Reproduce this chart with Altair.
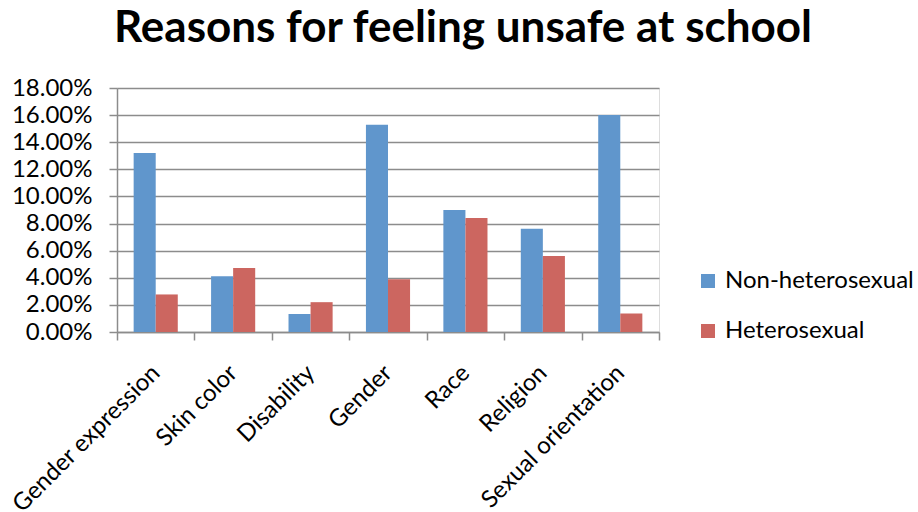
import altair as alt
import pandas as pd

categories = ["Gender expression", "Skin color", "Disability", "Gender",
              "Race", "Religion", "Sexual orientation"]
non_heterosexual = [0.132, 0.0412, 0.0133, 0.1529, 0.090, 0.0762, 0.160]
heterosexual = [0.0277, 0.0473, 0.022, 0.039, 0.0841, 0.056, 0.0136]
series = ["Non-heterosexual", "Heterosexual"]
y_ticks = [i / 100 for i in range(0, 19, 2)]

rows = []
for cat, a, b in zip(categories, non_heterosexual, heterosexual):
    rows.append({"reason": cat, "group": series[0], "share": a})
    rows.append({"reason": cat, "group": series[1], "share": b})
df = pd.DataFrame(rows)

FONT = "Lato"
GRID = "#8c8c8c"

chart = alt.Chart(df).mark_bar().encode(
    x=alt.X("reason:N", sort=categories, title=None,
            scale=alt.Scale(paddingInner=0, paddingOuter=0),
            axis=alt.Axis(labelAngle=315, labelAlign="right", labelBaseline="middle",
                          labelFontSize=24, labelColor="black", labelFont=FONT,
                          labelPadding=29, tickBand="extent", tickSize=8,
                          tickColor=GRID, tickWidth=1.5, domainColor=GRID,
                          domainWidth=1.5, grid=False, labelLimit=0)),
    xOffset=alt.XOffset("group:N", sort=series,
                        scale=alt.Scale(paddingInner=0, paddingOuter=0.755)),
    y=alt.Y("share:Q", title=None,
            scale=alt.Scale(domain=[0, 0.18], nice=False),
            axis=alt.Axis(values=y_ticks, format=".2%", labelFontSize=24,
                          labelColor="black", labelFont=FONT, labelPadding=17,
                          tickSize=8, tickColor=GRID, tickWidth=1.5,
                          domainColor=GRID, domainWidth=1.5,
                          gridColor=GRID, gridWidth=1.5)),
    color=alt.Color("group:N", sort=series,
                    scale=alt.Scale(domain=series, range=["#6096CC", "#CC6660"]),
                    legend=alt.Legend(title=None, orient="none", legendX=579,
                                      legendY=181, symbolType="square",
                                      symbolSize=196, symbolStrokeWidth=0,
                                      labelFontSize=24, labelFont=FONT,
                                      labelColor="black", rowPadding=26,
                                      labelOffset=5, labelLimit=0)),
).properties(
    width=542,
    height=244,
    title=alt.TitleParams("Reasons for feeling unsafe at school", font=FONT,
                          fontSize=44, fontWeight="bold", color="black",
                          anchor="middle", dx=75, offset=25, limit=0),
    autosize=alt.AutoSizeParams(type="none"),
    padding={"left": 117, "top": 88, "right": 259, "bottom": 180},
).configure_view(stroke=None).configure(background="white")

chart.save("out.html", embed_options={"renderer": "svg", "actions": False})
